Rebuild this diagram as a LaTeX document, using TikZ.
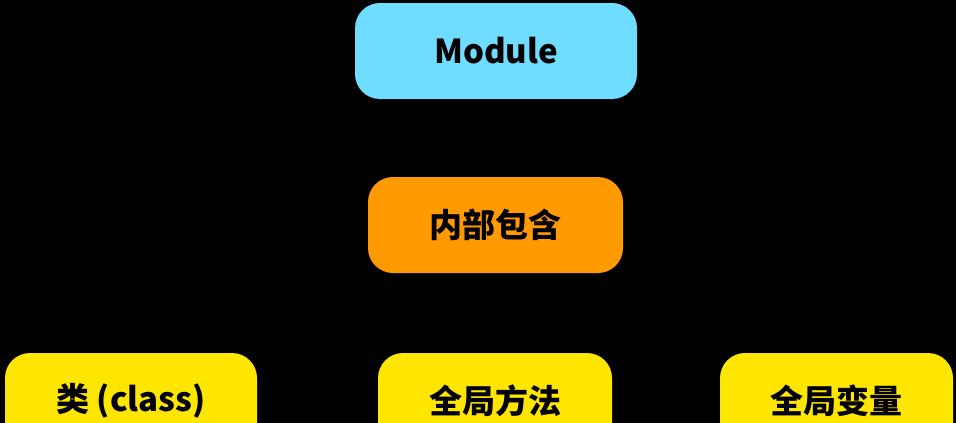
\documentclass[tikz,border=0pt]{standalone}
\usepackage{fontspec}
\newfontfamily\cjk{Noto Sans CJK SC}
\definecolor{modblue}{HTML}{6FDDFF}
\definecolor{inorange}{HTML}{FF9A00}
\definecolor{itemyellow}{HTML}{FFE600}
\tikzset{
  box/.style={rectangle, rounded corners=25pt, inner sep=0pt, minimum height=96pt,
    font=\cjk\bfseries\fontsize{33}{39}\selectfont, text=black},
}
\begin{document}
\begin{tikzpicture}[x=1pt,y=-1pt]
\useasboundingbox (0,0) rectangle (956,423);
\fill[black] (0,0) rectangle (956,423);
\clip (0,0) rectangle (956,423);
\node[box, fill=modblue, minimum width=282pt] (mod) at (496,51) {Module};
\node[box, fill=inorange, minimum width=255pt] (inner) at (495.5,225) {内部包含};
\node[box, fill=itemyellow, minimum width=252pt] (cls) at (131,401) {类 (class)};
\node[box, fill=itemyellow, minimum width=234pt] (meth) at (495,401) {全局方法};
\node[box, fill=itemyellow, minimum width=233pt] (var) at (836.5,401) {全局变量};
\end{tikzpicture}
\end{document}
